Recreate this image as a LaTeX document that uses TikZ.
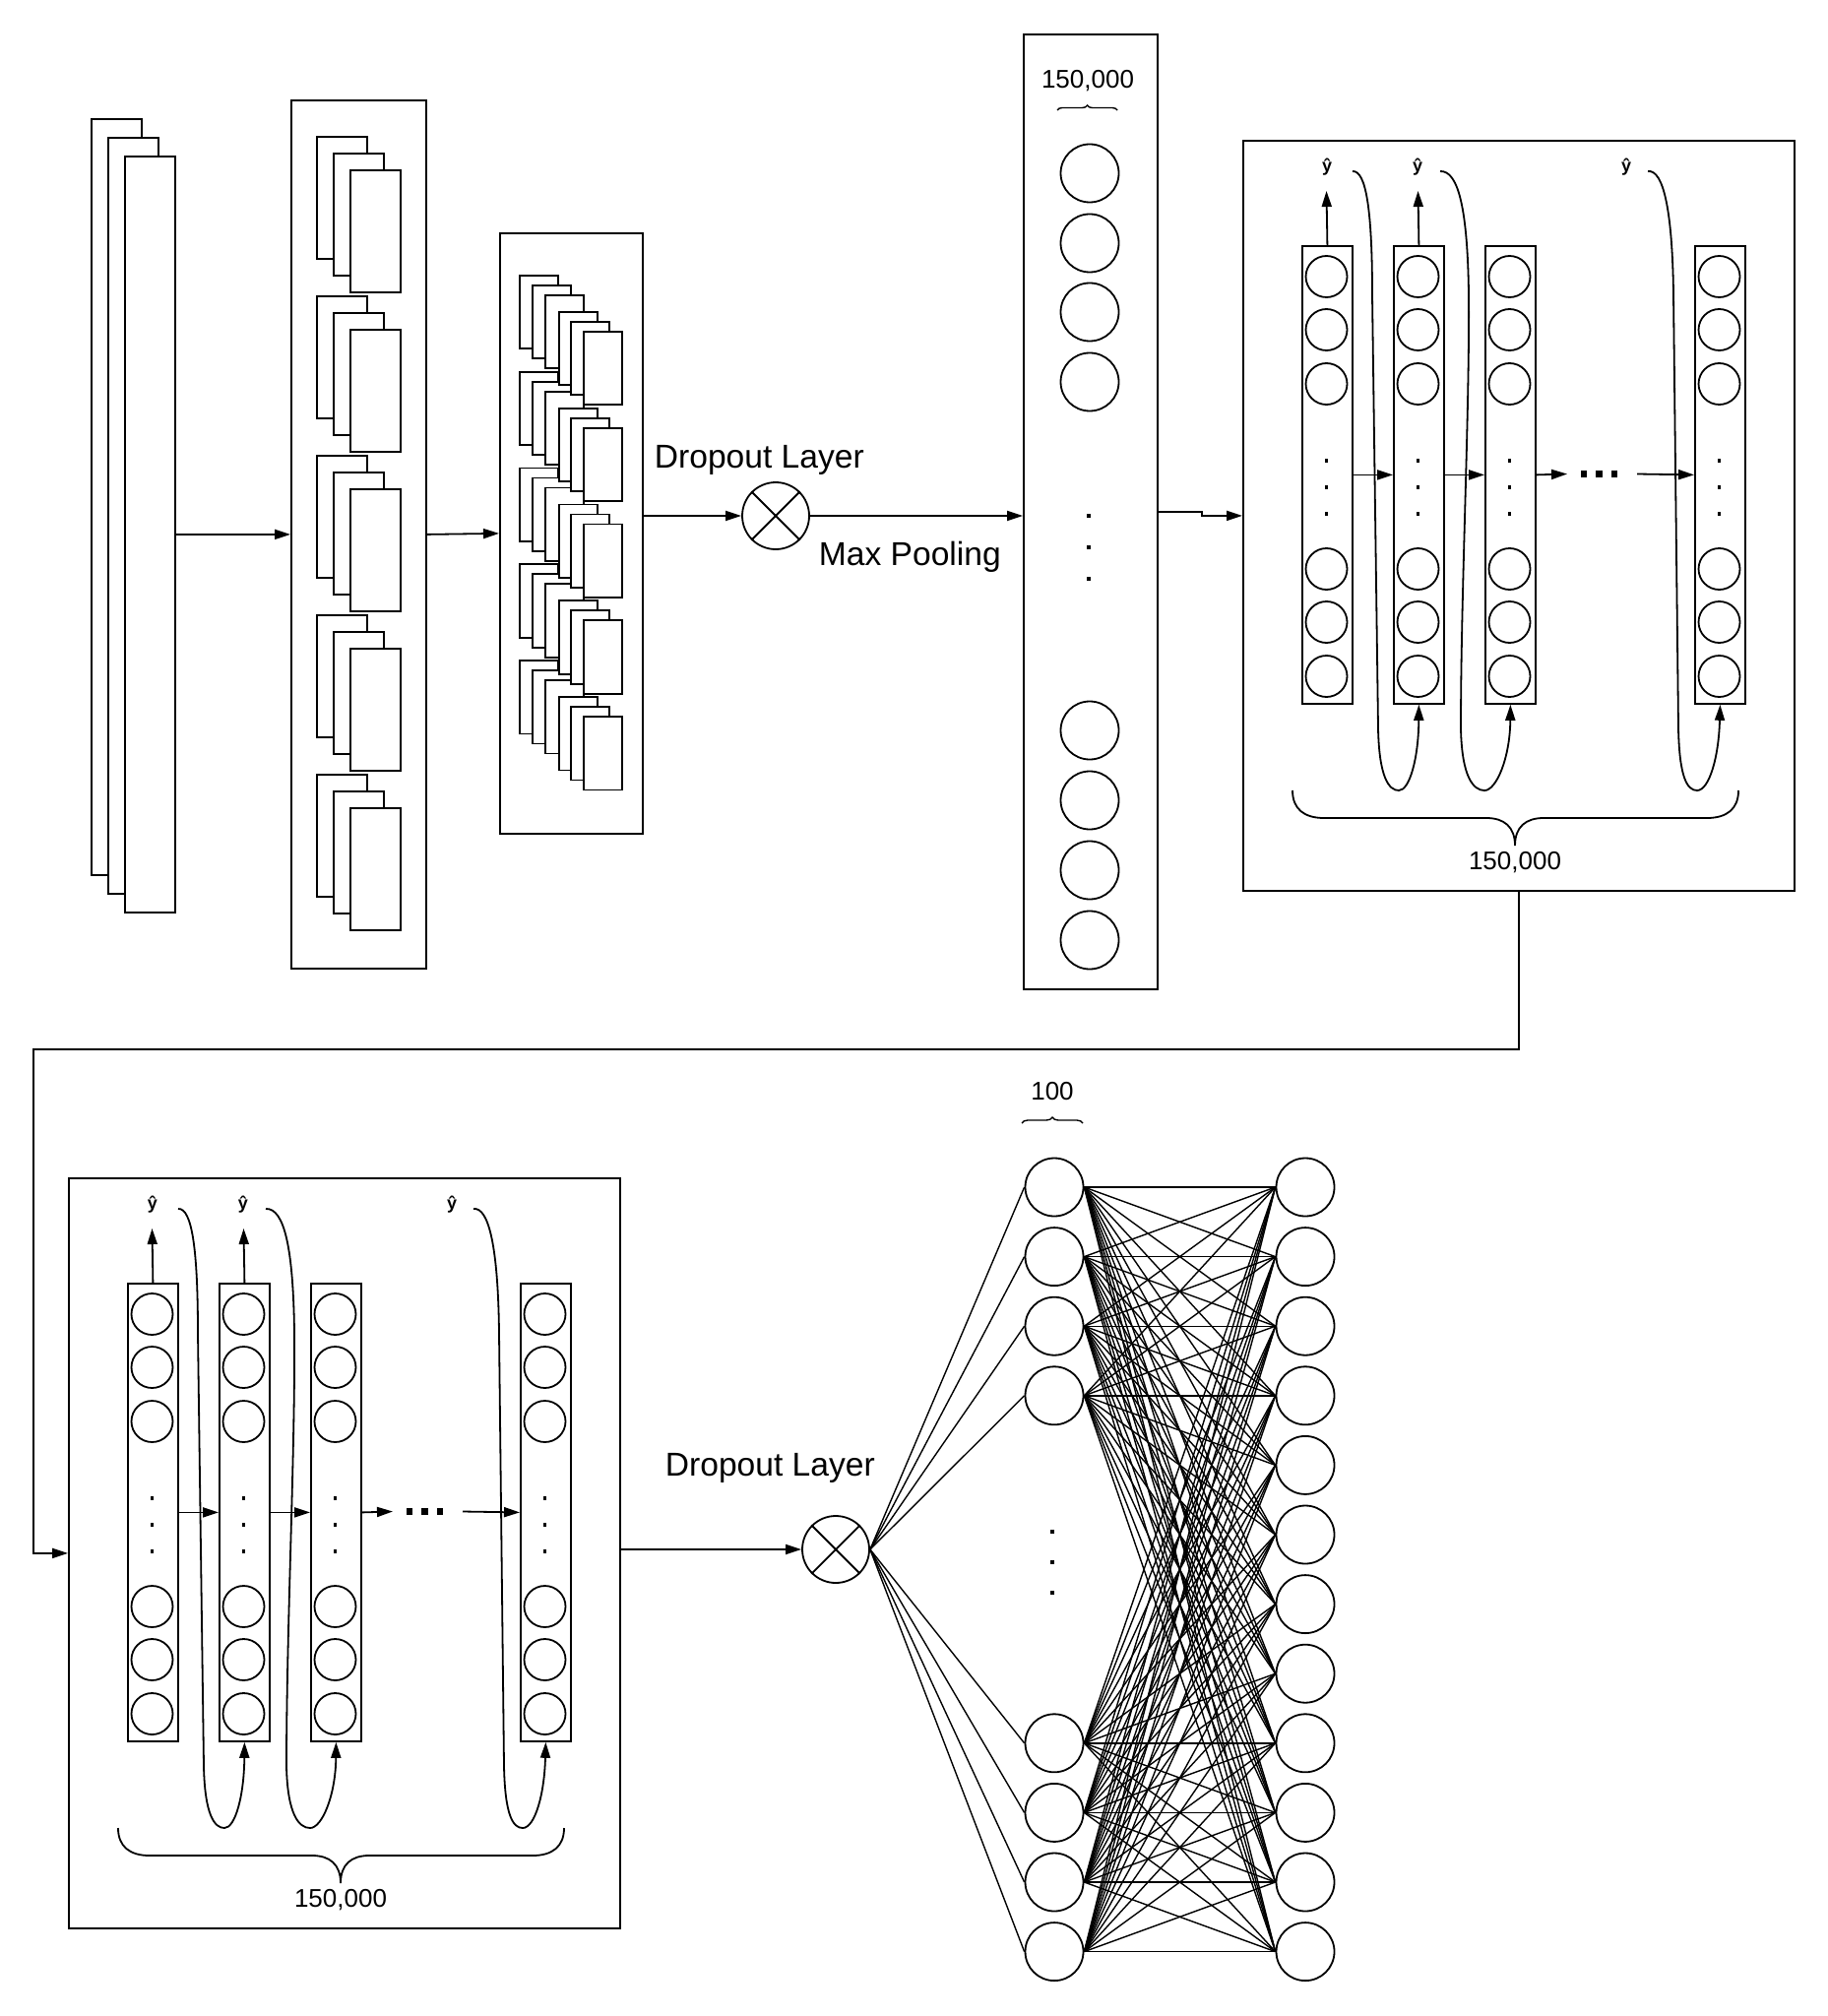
\documentclass[tikz,border=0pt]{standalone}
\usepackage{fontspec}
\setmainfont{Liberation Sans}
\usetikzlibrary{arrows.meta,decorations.pathreplacing}

\newcommand\rnnblock[1]{%
  \node[frame, wh={560}{762}] (#1box) at (1262,142) {};
  \foreach \ci/\xl in {1/1322,2/1415,3/1508,4/1721}{%
    \node[col] (#1col\ci) at (\xl,249) {};
    \foreach \yy [count=\nn] in {281,335,390,578,632,687}
      \node[smallcirc] (#1c\ci-\nn) at (\xl+25.5,\yy) {};
    \foreach \yy [count=\nn] in {468,495,522}
      \node[dotsq] (#1d\ci-\nn) at (\xl+25.5,\yy) {};
  }
  \draw[arr] (#1col1.east) -- (#1col2.west);
  \draw[arr] (#1col2.east) -- (#1col3.west);
  \coordinate (#1e1) at (1592,481.5);
  \coordinate (#1e2) at (1663,481.5);
  \draw[arr] (#1col3.east) -- (#1e1);
  \foreach \xx [count=\nn] in {1609,1624.5,1640}
    \node[bigdot] (#1m\nn) at (\xx,481.5) {};
  \draw[arr] (#1e2) -- (#1col4.west);
  \node[yhat] (#1y1) at (1348,170) {ŷ};
  \node[yhat] (#1y2) at (1440,170) {ŷ};
  \node[yhat] (#1y3) at (1652,170) {ŷ};
  \coordinate (#1u1) at (1347.5,194);
  \coordinate (#1u2) at (1440.5,194);
  \draw[arr] (#1col1.north) -- (#1u1);
  \draw[arr] (#1col2.north) -- (#1u2);
  \coordinate (#1s1) at (1374,174);
  \coordinate (#1s2) at (1463,174);
  \coordinate (#1s3) at (1674,174);
  \draw[arr] (#1s1) .. controls (1388,173) and (1394,215) .. (1394,300)
     -- (1400,740) .. controls (1401,790) and (1411,803) .. (1421,803)
     .. controls (1432,803) and (1441,770) .. (#1col2.south);
  \draw[arr] (#1s2) .. controls (1482,173) and (1491,215) .. (1492,300)
     .. controls (1493,420) and (1484,600) .. (1484,740)
     .. controls (1485,790) and (1497,803) .. (1508,803)
     .. controls (1520,803) and (1534,770) .. (#1col3.south);
  \draw[arr] (#1s3) .. controls (1690,172) and (1699,215) .. (1700,300)
     -- (1705,740) .. controls (1706,790) and (1714,803) .. (1724,803)
     .. controls (1736,803) and (1746,770) .. (#1col4.south);
  \coordinate (#1bl) at (1313,803);
  \coordinate (#1br) at (1766,803);
  \draw (#1bl) .. controls (1313,822) and (1325,831) .. (1345,831) -- (1510,831)
     .. controls (1528,831) and (1539,840) .. (1539,859)
     .. controls (1539,840) and (1550,831) .. (1568,831) -- (1734,831)
     .. controls (1754,831) and (1766,822) .. (#1br);
  \node[num] (#1num) at (1539,876) {150,000};
}

\begin{document}
\begin{tikzpicture}[x=0.5pt,y=-0.5pt,line width=0.9pt,
  arr/.style={-{Triangle[length=8pt,width=5pt]}},
  wh/.style 2 args={minimum width=#1*0.5pt,minimum height=#2*0.5pt},
  sheet/.style={draw,fill=white,inner sep=0pt,anchor=north west,rectangle},
  frame/.style={draw,inner sep=0pt,anchor=north west,rectangle},
  col/.style={draw,inner sep=0pt,anchor=north west,rectangle,wh={51}{465}},
  bigcirc/.style={draw,circle,inner sep=0pt,minimum size=59*0.5pt},
  smallcirc/.style={draw,circle,inner sep=0pt,minimum size=42*0.5pt},
  dropc/.style={draw,circle,inner sep=0pt,minimum size=68*0.5pt},
  dotsq/.style={fill,rectangle,inner sep=0pt,minimum size=3.5*0.5pt},
  bigdot/.style={fill,rectangle,inner sep=0pt,minimum size=6.5*0.5pt},
  lbl/.style={font=\fontsize{16.8}{20}\selectfont,inner sep=0pt},
  num/.style={font=\fontsize{13}{15}\selectfont,inner sep=0pt},
  yhat/.style={font=\bfseries\fontsize{9}{11}\selectfont,inner sep=0pt},
  fc/.style={line width=0.7pt}]
\fill[white] (0,0) rectangle (1856,2048);
\useasboundingbox (0,0) rectangle (1856,2048);

% input stack
\node[sheet,wh={51}{768}] (inA) at (92,120) {};
\node[sheet,wh={51}{768}] (inB) at (109,139) {};
\node[sheet,wh={51}{768}] (inC) at (126,158) {};

% box 2
\node[frame,wh={137}{882}] (box2) at (295,101) {};
\foreach \gi in {0,...,4}
  \foreach \kk in {0,1,2}
    \node[sheet,wh={51}{124}] (b2-\gi-\kk) at ({321+17*\kk},{138+162*\gi+17*\kk}) {};

% box 3
\node[frame,wh={145}{610}] (box3) at (507,236) {};
\foreach \gi in {4,3,2,1,0}
  \foreach \ox/\oy [count=\kk] in {0/0,13/10,26/20,40/37,52/47,65/57}
    \node[sheet,wh={39}{74.5}] (b3-\gi-\kk) at ({527+\ox},{279+97.75*\gi+\oy}) {};

\draw[arr] (inC.east) -- (box2.west);
\draw[arr] (box2.east) -- (box3.west);

% dropout 1
\node[dropc] (drop1) at (788,524) {};
\draw (drop1.north west) -- (drop1.south east) (drop1.north east) -- (drop1.south west);
\node[lbl,anchor=base west] (dl1) at (664,475) {Dropout Layer};
\node[lbl,anchor=base west] (mp) at (831,574) {Max Pooling};
\draw[arr] (box3.east |- drop1.west) -- (drop1.west);

% box 4
\node[frame,wh={136}{970}] (box4) at (1039,34) {};
\foreach \yy [count=\nn] in {176,247,317,388,742,813,884,955}
  \node[bigcirc] (p\nn) at (1107,\yy) {};
\foreach \yy [count=\nn] in {524,556,588}
  \node[dotsq] (pd\nn) at (1106,\yy) {};
\node[num] (n4) at (1105,82) {150,000};
\coordinate (t4l) at (1074,112);
\coordinate (t4r) at (1135,112);
\draw[line width=0.7pt,decorate,decoration={brace,amplitude=2.5pt}] (t4l) -- (t4r);
\draw[arr] (drop1.east) -- (box4.west |- drop1.east);

% recurrent blocks
\rnnblock{A}
\begin{scope}[shift={(-1193,1054)}]
\rnnblock{B}
\end{scope}

\draw[arr] (box4.east) -- ++(44,0) |- (Abox.west);
\coordinate (bend) at (34,1066);
\draw[arr] (Abox.south) |- (bend) |- (Bbox.west);

% dropout 2
\node[dropc] (drop2) at (849,1574) {};
\draw (drop2.north west) -- (drop2.south east) (drop2.north east) -- (drop2.south west);
\node[lbl,anchor=base west] (dl2) at (675,1499) {Dropout Layer};
\draw[arr] (Bbox.east |- drop2.west) -- (drop2.west);

% fully connected
\foreach \kk in {1,...,12}
  \node[bigcirc] (R\kk) at (1326,{1206+70.6*(\kk-1)}) {};
\foreach \kk/\rr in {1/1,2/2,3/3,4/4,5/9,6/10,7/11,8/12}
  \node[bigcirc] (L\kk) at (1071,{1206+70.6*(\rr-1)}) {};
\foreach \yy [count=\nn] in {1556,1587,1618}
  \node[dotsq] (ld\nn) at (1069,\yy) {};
\node[num] (n100) at (1069,1109) {100};
\coordinate (h1) at (1038,1141);
\coordinate (h2) at (1100,1141);
\draw[line width=0.7pt,decorate,decoration={brace,amplitude=3pt}] (h1) -- (h2);
\foreach \ii in {1,...,8}{
  \draw[fc] (drop2.east) -- (L\ii.west);
  \foreach \jj in {1,...,12}
    \draw[fc] (L\ii.east) -- (R\jj.west);
}
\end{tikzpicture}
\end{document}
